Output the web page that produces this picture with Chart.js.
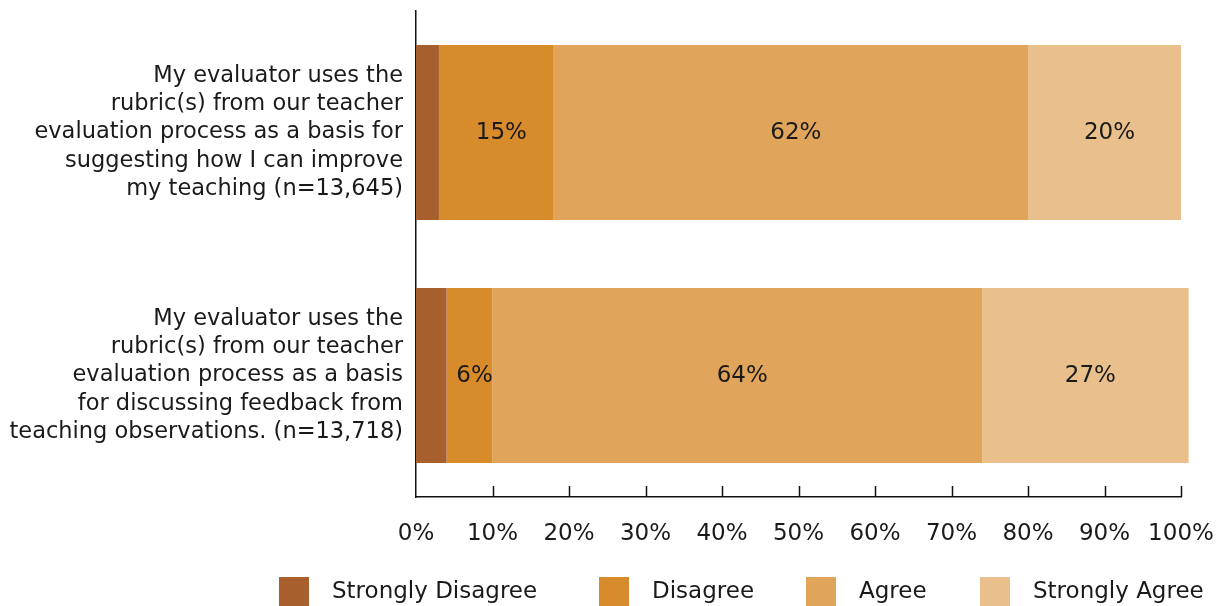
<!DOCTYPE html>
<html>
<head>
<meta charset="utf-8">
<script src="https://cdn.jsdelivr.net/npm/chart.js@4/dist/chart.umd.min.js"></script>
<style>
  html, body { margin: 0; padding: 0; background: #fff; }
  #wrap { width: 1219px; height: 606px; position: relative; }
</style>
</head>
<body>
<div id="wrap"><canvas id="c" width="1219" height="606"></canvas></div>
<script>
// Survey statements (wrapped into lines for the category axis)
const categories = [
  ["My evaluator uses the", "rubric(s) from our teacher", "evaluation process as a basis for", "suggesting how I can improve", "my teaching (n=13,645)"],
  ["My evaluator uses the", "rubric(s) from our teacher", "evaluation process as a basis", "for discussing feedback from", "teaching observations. (n=13,718)"]
];

// Response shares, percent
const stronglyDisagree = [3, 4];
const disagree = [15, 6];
const agree = [62, 64];
const stronglyAgree = [20, 27];

const seriesNames = ["Strongly Disagree", "Disagree", "Agree", "Strongly Agree"];
const seriesColors = ["#A65F2D", "#D88B2B", "#E0A55B", "#E9C08B"];
const xTicks = [0, 10, 20, 30, 40, 50, 60, 70, 80, 90, 100];

const FONT = "'DejaVu Sans', sans-serif";
const FSIZE = 23;
const TEXT = "#1a1a1a";

// Percent labels centred in each segment (small segments left unlabelled)
const segmentLabels = {
  id: "segmentLabels",
  afterDatasetsDraw(chart) {
    const ctx = chart.ctx;
    ctx.save();
    ctx.font = FSIZE + "px " + FONT;
    ctx.fillStyle = TEXT;
    ctx.textAlign = "center";
    ctx.textBaseline = "middle";
    chart.data.datasets.forEach((ds, di) => {
      const meta = chart.getDatasetMeta(di);
      meta.data.forEach((bar, i) => {
        const v = ds.data[i];
        if (v < 5) return;
        const x = (bar.x + bar.base) / 2 + 5;
        ctx.fillText(v + "%", x, bar.y + 1);
      });
    });
    ctx.restore();
  }
};

// Short tick marks rising from the value axis
const innerTicks = {
  id: "innerTicks",
  afterDraw(chart) {
    const ctx = chart.ctx;
    const xs = chart.scales.x;
    const y0 = chart.chartArea.bottom;
    ctx.save();
    ctx.strokeStyle = "#111";
    ctx.lineWidth = 1.5;
    xTicks.forEach(t => {
      if (t === 0) return;
      const px = Math.round(xs.getPixelForValue(t)) + 0.5;
      ctx.beginPath();
      ctx.moveTo(px, y0);
      ctx.lineTo(px, y0 - 11);
      ctx.stroke();
    });
    ctx.restore();
  }
};

// Legend row along the bottom edge
const legendRow = {
  id: "legendRow",
  afterDraw(chart) {
    const ctx = chart.ctx;
    const boxX = [279, 599, 806, 980];
    const boxY = 577, box = 30;
    ctx.save();
    ctx.font = FSIZE + "px " + FONT;
    ctx.textAlign = "left";
    ctx.textBaseline = "middle";
    chart.data.datasets.forEach((ds, i) => {
      ctx.fillStyle = ds.backgroundColor;
      ctx.fillRect(boxX[i], boxY, box, box);
      ctx.fillStyle = TEXT;
      ctx.fillText(ds.label, boxX[i] + 53, boxY + 15);
    });
    ctx.restore();
  }
};

const seriesValues = [stronglyDisagree, disagree, agree, stronglyAgree];

new Chart(document.getElementById("c"), {
  type: "bar",
  data: {
    labels: categories,
    datasets: seriesValues.map((vals, i) => ({
      label: seriesNames[i],
      data: vals,
      backgroundColor: seriesColors[i],
      borderWidth: 0,
      clip: false
    }))
  },
  options: {
    indexAxis: "y",
    responsive: false,
    animation: false,
    devicePixelRatio: 1,
    layout: { autoPadding: false, padding: { top: 11, right: 38, left: 0, bottom: 0 } },
    plugins: {
      legend: { display: false },
      tooltip: { enabled: false }
    },
    scales: {
      x: {
        stacked: true,
        min: 0,
        max: 100,
        afterBuildTicks(scale) {
          scale.ticks = xTicks.map(v => ({ value: v }));
        },
        afterFit(scale) {
          scale.height = 109;
          scale.paddingLeft = 0;
          scale.paddingRight = 0;
        },
        grid: { display: false, drawTicks: false },
        border: { display: true, color: "#111", width: 1.5 },
        ticks: {
          padding: 23,
          color: TEXT,
          font: { family: FONT, size: FSIZE },
          maxRotation: 0,
          callback: v => v + "%"
        }
      },
      y: {
        stacked: true,
        afterFit(scale) {
          scale.width = 416;
          scale.paddingTop = 0;
          scale.paddingBottom = 0;
        },
        grid: { display: false, drawTicks: false },
        border: { display: true, color: "#111", width: 1.5 },
        ticks: {
          padding: 13,
          color: TEXT,
          font: { family: FONT, size: 22.5, lineHeight: 1.26 }
        }
      }
    }
  },
  plugins: [segmentLabels, innerTicks, legendRow]
});
</script>
</body>
</html>
